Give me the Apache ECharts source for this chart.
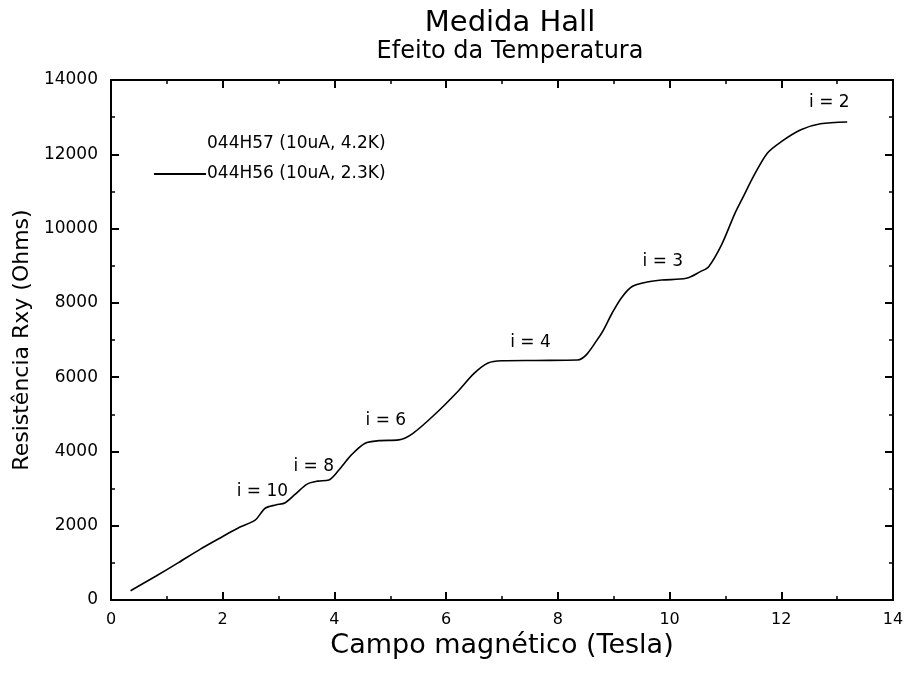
<!DOCTYPE html>
<html>
<head>
<meta charset="utf-8">
<script src="https://cdn.jsdelivr.net/npm/echarts@6/dist/echarts.min.js"></script>
<style>
  html, body { margin: 0; padding: 0; background: #fff; }
  #chart { width: 908px; height: 673px; }
</style>
</head>
<body>
<div id="chart"></div>
<script>
// Hall resistance Rxy versus magnetic field (T), sample 044H56 at 2.3 K
const fieldT = [0.35, 0.8, 1.2, 1.6, 2.0, 2.3, 2.58, 2.76, 2.95, 3.12, 3.3, 3.51, 3.7, 3.9, 4.08, 4.3, 4.55, 4.8, 5.15, 5.4, 5.8, 6.2, 6.5, 6.75, 7.0, 7.6, 8.35, 8.76, 8.97, 9.14, 9.33, 9.6, 9.86, 10.3, 10.55, 10.7, 10.93, 11.17, 11.32, 11.5, 11.75, 12.0, 12.35, 12.7, 13.18];
const rxy2K3 = [250, 640, 1000, 1370, 1710, 1960, 2150, 2470, 2560, 2620, 2850, 3120, 3200, 3230, 3500, 3900, 4220, 4290, 4310, 4480, 5000, 5600, 6100, 6380, 6440, 6450, 6460, 7130, 7720, 8140, 8440, 8560, 8615, 8660, 8840, 8975, 9560, 10410, 10860, 11400, 12030, 12340, 12660, 12820, 12870];

// Filling-factor annotations placed in data units
const plateauLabels = ['i = 2', 'i = 3', 'i = 4', 'i = 6', 'i = 8', 'i = 10'];
const plateauLabelX = [12.86, 9.88, 7.51, 4.92, 3.63, 2.71];
const plateauLabelY = [13380, 9100, 6920, 4820, 3580, 2910];

const seriesNames = ['044H57 (10uA, 4.2K)', '044H56 (10uA, 2.3K)'];

const xTicks = { min: 0, max: 14, interval: 2 };
const yTicks = { min: 0, max: 14000, interval: 2000 };

const font = '"DejaVu Sans", Arial, sans-serif';

function axisStyle() {
  return {
    axisLine: { show: true, onZero: false, lineStyle: { color: '#000', width: 2 } },
    axisTick: { show: true, inside: true, length: 8, lineStyle: { color: '#000', width: 2 } },
    minorTick: { show: true, splitNumber: 2, length: 4, lineStyle: { color: '#000', width: 1.5 } },
    splitLine: { show: false }
  };
}

const chart = echarts.init(document.getElementById('chart'));
chart.setOption({
  backgroundColor: '#fff',
  animation: false,
  title: {
    text: 'Medida Hall',
    subtext: 'Efeito da Temperatura',
    left: 505, top: 4, textAlign: 'center',
    itemGap: 2,
    textStyle: { fontFamily: font, fontSize: 29, fontWeight: 'normal', color: '#000' },
    subtextStyle: { fontFamily: font, fontSize: 24, color: '#000' }
  },
  legend: {
    orient: 'vertical',
    left: 149, top: 130,
    itemWidth: 52, itemHeight: 2, itemGap: 12,
    textStyle: { fontFamily: font, fontSize: 17, lineHeight: 18, color: '#000', padding: [0, 0, 0, -4] },
    data: [
      { name: seriesNames[0], icon: 'none' },
      { name: seriesNames[1], icon: 'rect', itemStyle: { color: '#000' } }
    ]
  },
  grid: { left: 111, right: 15, top: 80, bottom: 73 },
  xAxis: [
    Object.assign(axisStyle(), {
      type: 'value', min: xTicks.min, max: xTicks.max, interval: xTicks.interval,
      name: 'Campo magnético (Tesla)', nameLocation: 'middle', nameGap: 29,
      nameTextStyle: { fontFamily: font, fontSize: 27, color: '#000' },
      axisLabel: { fontFamily: font, fontSize: 16, color: '#000', margin: 12 }
    }),
    Object.assign(axisStyle(), {
      type: 'value', position: 'top', min: xTicks.min, max: xTicks.max, interval: xTicks.interval,
      axisLabel: { show: false }
    })
  ],
  yAxis: [
    Object.assign(axisStyle(), {
      type: 'value', min: yTicks.min, max: yTicks.max, interval: yTicks.interval,
      name: 'Resistência Rxy (Ohms)', nameLocation: 'middle', nameGap: 78,
      nameTextStyle: { fontFamily: font, fontSize: 22, color: '#000' },
      axisLabel: { fontFamily: font, fontSize: 17, color: '#000', margin: 13, formatter: v => String(v) }
    }),
    Object.assign(axisStyle(), {
      type: 'value', position: 'right', min: yTicks.min, max: yTicks.max, interval: yTicks.interval,
      axisLabel: { show: false }
    })
  ],
  series: [
    {
      name: seriesNames[0],
      type: 'line',
      data: [],
      symbol: 'none',
      lineStyle: { color: '#000', width: 1, type: 'dotted' },
      itemStyle: { color: '#000' }
    },
    {
      name: seriesNames[1],
      type: 'line',
      data: fieldT.map((x, i) => [x, rxy2K3[i]]),
      symbol: 'none',
      smooth: 0.3,
      lineStyle: { color: '#000', width: 1.6 },
      itemStyle: { color: '#000' },
      markPoint: {
        symbol: 'circle', symbolSize: 0,
        label: {
          show: true, position: 'inside',
          fontFamily: font, fontSize: 17, color: '#000',
          formatter: p => p.name
        },
        data: plateauLabels.map((t, i) => ({ name: t, coord: [plateauLabelX[i], plateauLabelY[i]] }))
      }
    }
  ]
});
</script>
</body>
</html>
